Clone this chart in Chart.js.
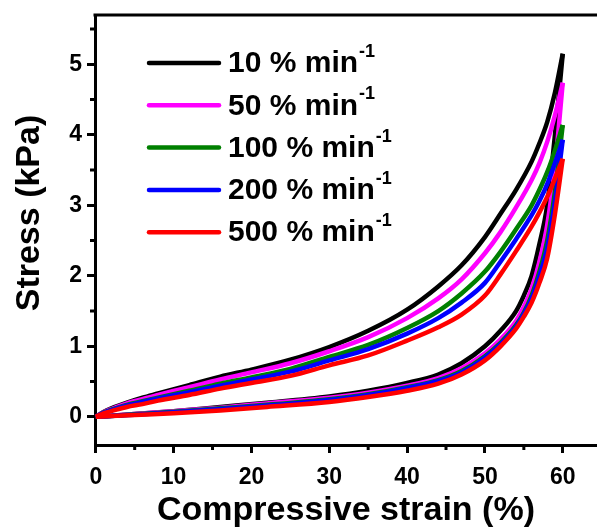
<!DOCTYPE html>
<html>
<head>
<meta charset="utf-8">
<script src="https://cdn.jsdelivr.net/npm/chart.js@4/dist/chart.umd.min.js"></script>
<style>
  html, body { margin: 0; padding: 0; background: #fff; }
  #wrap { width: 597px; height: 529px; position: relative; }
</style>
</head>
<body>
<div id="wrap"><canvas id="loopChart"></canvas></div>
<script>
// strain rates (% min-1) and their colours
const rates = [10, 50, 100, 200, 500];
const rateColors = ['#000000', '#ff00ff', '#008000', '#0000ff', '#ff0000'];

// compressive strain (%) sampled on loading and unloading
const strainLoad   = [0, 1, 2, 4, 6, 8, 12, 16, 20, 25, 30, 35, 40, 44, 47, 50, 52, 54, 56, 57, 58, 59, 60];
const strainUnload = [0, 2, 5, 10, 16, 22, 30, 35, 40, 44, 47, 50, 52, 54, 55, 56, 57, 58, 59, 60];

// stress (kPa) on loading
const load10  = [0, 0.07, 0.12, 0.20, 0.27, 0.33, 0.45, 0.57, 0.67, 0.81, 0.99, 1.22, 1.52, 1.85, 2.15, 2.55, 2.88, 3.22, 3.62, 3.88, 4.18, 4.60, 5.15];
const load50  = [0, 0.065, 0.11, 0.19, 0.25, 0.31, 0.42, 0.53, 0.63, 0.76, 0.93, 1.13, 1.40, 1.68, 1.95, 2.32, 2.62, 2.97, 3.36, 3.60, 3.90, 4.28, 4.74];
const load100 = [0, 0.06, 0.10, 0.17, 0.22, 0.27, 0.37, 0.47, 0.56, 0.68, 0.85, 1.02, 1.26, 1.50, 1.75, 2.06, 2.34, 2.66, 3.00, 3.22, 3.47, 3.78, 4.14];
const load200 = [0, 0.055, 0.095, 0.16, 0.21, 0.26, 0.35, 0.44, 0.53, 0.64, 0.80, 0.96, 1.18, 1.40, 1.62, 1.90, 2.20, 2.52, 2.86, 3.06, 3.30, 3.60, 3.93];
const load500 = [0, 0.05, 0.08, 0.14, 0.18, 0.23, 0.31, 0.40, 0.48, 0.58, 0.73, 0.87, 1.08, 1.27, 1.45, 1.72, 2.02, 2.35, 2.70, 2.90, 3.12, 3.38, 3.66];

// stress (kPa) on unloading
const unload10  = [0, 0.015, 0.04, 0.08, 0.14, 0.20, 0.29, 0.37, 0.48, 0.60, 0.76, 1.00, 1.22, 1.50, 1.72, 2.00, 2.45, 3.00, 4.00, 5.15];
const unload50  = [0, 0.015, 0.04, 0.08, 0.13, 0.19, 0.27, 0.34, 0.44, 0.55, 0.69, 0.90, 1.10, 1.36, 1.56, 1.82, 2.20, 2.72, 3.55, 4.74];
const unload100 = [0, 0.012, 0.035, 0.07, 0.12, 0.17, 0.25, 0.32, 0.42, 0.52, 0.65, 0.86, 1.05, 1.30, 1.48, 1.72, 2.06, 2.50, 3.20, 4.14];
const unload200 = [0, 0.012, 0.03, 0.065, 0.11, 0.16, 0.24, 0.31, 0.41, 0.51, 0.63, 0.84, 1.03, 1.28, 1.46, 1.68, 2.00, 2.40, 3.06, 3.93];
const unload500 = [0, 0.01, 0.025, 0.05, 0.09, 0.14, 0.21, 0.28, 0.37, 0.47, 0.60, 0.80, 1.00, 1.25, 1.42, 1.62, 1.90, 2.25, 2.88, 3.66];

const loadSets = [load10, load50, load100, load200, load500];
const unloadSets = [unload10, unload50, unload100, unload200, unload500];

// axis ticks
const xTicks = [0, 10, 20, 30, 40, 50, 60];
const xMinor = [5, 15, 25, 35, 45, 55];
const yTicks = [0, 1, 2, 3, 4, 5];
const yMinor = [0.5, 1.5, 2.5, 3.5, 4.5, 5.5];

const FONT = "'Liberation Sans', Arial, Helvetica, sans-serif";

const toPoints = (xs, ys) => xs.map((x, i) => ({ x: x, y: ys[i] }));

const datasets = [];
rates.forEach((rate, i) => {
    const common = {
        borderColor: rateColors[i],
        borderWidth: 4.5,
        pointRadius: 0,
        showLine: true,
        fill: false,
        cubicInterpolationMode: 'monotone',
        clip: false,
        order: rates.length - 1 - i
    };
    datasets.push(Object.assign({ label: rate + ' load', data: toPoints(strainLoad, loadSets[i]) }, common));
    datasets.push(Object.assign({ label: rate + ' unload', data: toPoints(strainUnload, unloadSets[i]) }, common));
});

// minor ticks, top frame line, legend and y title
const decorations = {
    id: 'decorations',
    afterDraw(chart) {
        const ctx = chart.ctx;
        const area = chart.chartArea;
        const xs = chart.scales.x, ys = chart.scales.y;
        ctx.save();
        ctx.strokeStyle = '#000';
        ctx.lineWidth = 3;

        // top frame
        ctx.beginPath();
        ctx.moveTo(area.left - 1.5, area.top);
        ctx.lineTo(area.right, area.top);
        ctx.stroke();

        // minor ticks
        ctx.beginPath();
        xMinor.forEach(v => {
            const px = xs.getPixelForValue(v);
            ctx.moveTo(px, area.bottom);
            ctx.lineTo(px, area.bottom + 5);
        });
        yMinor.forEach(v => {
            const py = ys.getPixelForValue(v);
            ctx.moveTo(area.left, py);
            ctx.lineTo(area.left - 5, py);
        });
        ctx.stroke();

        // legend
        ctx.lineCap = 'round';
        ctx.lineWidth = 4.5;
        ctx.fillStyle = '#000';
        ctx.textBaseline = 'middle';
        rates.forEach((rate, i) => {
            const y = 63 + i * 42.3;
            ctx.strokeStyle = rateColors[i];
            ctx.beginPath();
            ctx.moveTo(149, y);
            ctx.lineTo(219, y);
            ctx.stroke();
            ctx.font = 'bold 30px ' + FONT;
            const label = rate + ' % min';
            ctx.textAlign = 'left';
            ctx.fillText(label, 228, y + 1);
            const w = ctx.measureText(label).width;
            ctx.font = 'bold 18px ' + FONT;
            ctx.fillText('-1', 228 + w + 1, y - 11);
        });

        // y axis title
        ctx.translate(30, 213);
        ctx.rotate(-Math.PI / 2);
        ctx.font = 'bold 34px ' + FONT;
        ctx.textAlign = 'center';
        ctx.textBaseline = 'middle';
        ctx.fillText('Stress (kPa)', 0, 0);
        ctx.restore();
    }
};

new Chart(document.getElementById('loopChart').getContext('2d'), {
    type: 'scatter',
    data: { datasets: datasets },
    options: {
        responsive: true,
        maintainAspectRatio: false,
        animation: false,
        layout: { padding: { top: 15, right: 0, left: 0, bottom: 0 } },
        plugins: {
            legend: { display: false },
            tooltip: { enabled: false }
        },
        scales: {
            x: {
                type: 'linear',
                min: -0.1,
                max: 64.4,
                afterBuildTicks: s => { s.ticks = xTicks.map(v => ({ value: v })); },
                afterFit: s => { s.height = 84; },
                grid: { drawOnChartArea: false, tickLength: 8, tickWidth: 3, tickColor: '#000' },
                border: { color: '#000', width: 3 },
                ticks: {
                    color: '#000',
                    padding: 11,
                    maxRotation: 0,
                    font: { family: FONT, size: 23, weight: 'bold' }
                },
                title: {
                    display: true,
                    text: 'Compressive strain (%)',
                    color: '#000',
                    padding: 0,
                    font: { family: FONT, size: 34, weight: 'bold', lineHeight: 1.1 }
                }
            },
            y: {
                type: 'linear',
                min: -0.4,
                max: 5.7,
                afterBuildTicks: s => { s.ticks = yTicks.map(v => ({ value: v })); },
                afterFit: s => { s.width = 95; },
                grid: { drawOnChartArea: false, tickLength: 8, tickWidth: 3, tickColor: '#000' },
                border: { color: '#000', width: 3 },
                ticks: {
                    color: '#000',
                    padding: 5,
                    font: { family: FONT, size: 23, weight: 'bold', lineHeight: 0.8 }
                }
            }
        }
    },
    plugins: [decorations]
});
</script>
</body>
</html>
